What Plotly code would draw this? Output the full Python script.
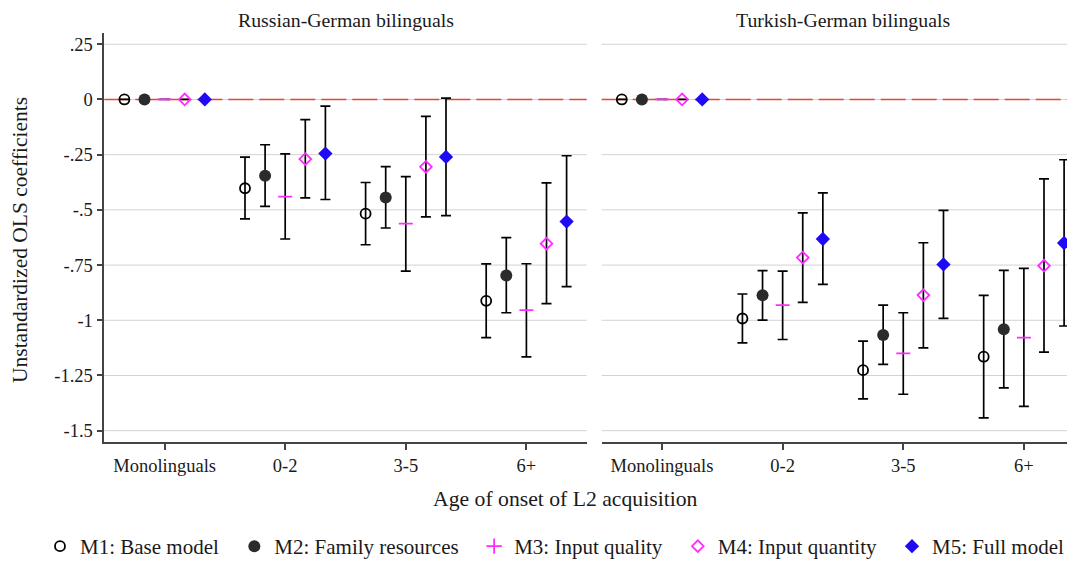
import plotly.graph_objects as go

# ---------------- data ----------------
categories = ["Monolinguals", "0-2", "3-5", "6+"]
models = ["M1: Base model", "M2: Family resources", "M3: Input quality",
          "M4: Input quantity", "M5: Full model"]
panels = ["Russian-German bilinguals", "Turkish-German bilinguals"]

y_tickvals = [0.25, 0, -0.25, -0.5, -0.75, -1, -1.25, -1.5]
y_ticktext = [".25", "0", "-.25", "-.5", "-.75", "-1", "-1.25", "-1.5"]

# Russian-German: rows = models M1..M5, cols = categories
ru_coef = [[0, -0.402, -0.517, -0.912],
           [0, -0.345, -0.444, -0.797],
           [0, -0.440, -0.562, -0.954],
           [0, -0.270, -0.305, -0.653],
           [0, -0.245, -0.260, -0.553]]
ru_lo = [[0, -0.541, -0.658, -1.079],
         [0, -0.484, -0.582, -0.966],
         [0, -0.632, -0.777, -1.166],
         [0, -0.446, -0.532, -0.925],
         [0, -0.453, -0.526, -0.848]]
ru_hi = [[0, -0.261, -0.376, -0.745],
         [0, -0.205, -0.304, -0.626],
         [0, -0.246, -0.349, -0.744],
         [0, -0.091, -0.077, -0.378],
         [0, -0.030, 0.006, -0.255]]

# Turkish-German
tr_coef = [[0, -0.992, -1.226, -1.165],
           [0, -0.887, -1.067, -1.041],
           [0, -0.931, -1.150, -1.079],
           [0, -0.716, -0.886, -0.753],
           [0, -0.632, -0.747, -0.650]]
tr_lo = [[0, -1.102, -1.356, -1.442],
         [0, -0.999, -1.200, -1.306],
         [0, -1.087, -1.335, -1.390],
         [0, -0.919, -1.125, -1.144],
         [0, -0.837, -0.991, -1.026]]
tr_hi = [[0, -0.881, -1.094, -0.887],
         [0, -0.775, -0.931, -0.774],
         [0, -0.777, -0.966, -0.765],
         [0, -0.514, -0.649, -0.360],
         [0, -0.423, -0.502, -0.273]]

# ---------------- styles ----------------
FONT = "Liberation Serif"
TXT = "#1a1a1a"
MAG = "#ff2bff"
BLUE = "#1f0af5"
GRID = "#d2d2d2"
marker_styles = [
    dict(symbol="circle-open", size=10, color="black", line=dict(width=1.8, color="black")),
    dict(symbol="circle", size=12, color="#2b2b2b", line=dict(width=0)),
    dict(symbol="line-ew", size=10, color=MAG, line=dict(width=1.8, color=MAG)),
    dict(symbol="diamond-open", size=9, color=MAG, line=dict(width=1.8, color=MAG)),
    dict(symbol="diamond", size=11, color=BLUE, line=dict(width=0)),
]
legend_m3 = dict(symbol="cross-thin", size=11, color=MAG, line=dict(width=1.8, color=MAG))
PAD = "\u00a0\u00a0"  # spacing after legend labels

W, H = 1075, 561
OFF = 8  # page body margin compensation (pixels)


def fx(px):
    return (px - OFF) / W


def fy(py):
    return (H - (py - OFF)) / H


fig = go.Figure()

data_sets = [(ru_coef, ru_lo, ru_hi, "x", "y"), (tr_coef, tr_lo, tr_hi, "x2", "y2")]
for p, (coef, lo, hi, xa, ya) in enumerate(data_sets):
    for m in range(5):
        xs = [k + 1 + (m - 2) / 6 for k in range(len(categories))]
        label = models[m] + (PAD if m < 4 else "")
        if p == 0 and m == 2:
            fig.add_trace(go.Scatter(x=[None], y=[None], mode="markers", marker=legend_m3,
                                     name=label, showlegend=True, xaxis=xa, yaxis=ya))
        fig.add_trace(go.Scatter(
            x=xs, y=coef[m], mode="markers", marker=marker_styles[m],
            name=label, showlegend=(p == 0 and m != 2),
            error_y=dict(type="data", symmetric=False,
                         array=[h - c for h, c in zip(hi[m], coef[m])],
                         arrayminus=[c - l for c, l in zip(coef[m], lo[m])],
                         color="black", thickness=1.7, width=5),
            xaxis=xa, yaxis=ya))

# gridlines (as shapes so the zero line can sit above them) and zero reference line
for xr, yr in [("x domain", "y"), ("x2 domain", "y2")]:
    for v in y_tickvals:
        fig.add_shape(type="line", xref=xr, yref=yr, x0=0, x1=1, y0=v, y1=v,
                      line=dict(color=GRID, width=1), layer="below")
    fig.add_shape(type="line", xref=xr, yref=yr, x0=0, x1=1, y0=0, y1=0,
                  line=dict(color="#e9443b", width=1.5, dash="25px,6px"), layer="below")

# geometry (page pixels)
ydom = [fy(442.3), fy(33)]
x1dom = [fx(104.3), fx(586.7)]
x2dom = [fx(601.7), 1.0]

axis_common = dict(tickfont=dict(family=FONT, size=18.5, color=TXT), showgrid=False,
                   zeroline=False)
fig.update_layout(
    width=W, height=H, margin=dict(l=0, r=0, t=0, b=0, autoexpand=False),
    paper_bgcolor="white", plot_bgcolor="white",
    font=dict(family=FONT, color=TXT),
    xaxis=dict(domain=x1dom, range=[0.5, 4.5], tickvals=[1, 2, 3, 4], ticktext=categories,
               ticks="outside", ticklen=6, tickwidth=1.5, tickcolor="#444",
               showline=True, linecolor="#444", linewidth=1.5, anchor="y", automargin=False,
               **axis_common),
    xaxis2=dict(domain=x2dom, range=[0.5, 4.49], tickvals=[1, 2, 3, 4], ticktext=categories,
                ticks="outside", ticklen=6, tickwidth=1.5, tickcolor="#444",
                showline=True, linecolor="#444", linewidth=1.5, anchor="y2", automargin=False,
                **axis_common),
    yaxis=dict(domain=ydom, range=[-1.5526, 0.301], tickvals=y_tickvals, ticktext=y_ticktext,
               ticks="outside", ticklen=6, tickwidth=1.5, tickcolor="#444",
               showline=True, linecolor="#444", linewidth=1.5, anchor="x",
               showgrid=False, zeroline=False,
               tickfont=dict(family=FONT, size=18.5, color=TXT), automargin=False),
    yaxis2=dict(domain=ydom, range=[-1.5526, 0.301], tickvals=y_tickvals, showticklabels=False,
                ticks="", showline=False, anchor="x2",
                showgrid=False, zeroline=False, automargin=False),
    legend=dict(orientation="h", x=fx(32 + OFF), xanchor="left", y=fy(546.5), yanchor="middle",
                font=dict(family=FONT, size=21, color=TXT), bgcolor="rgba(0,0,0,0)",
                traceorder="normal"),
    showlegend=True,
)

annotations = [
    dict(text=panels[0], x=fx(345.5), y=fy(20)),
    dict(text=panels[1], x=fx(843), y=fy(20)),
]
for a in annotations:
    fig.add_annotation(xref="paper", yref="paper", x=a["x"], y=a["y"], text=a["text"],
                       showarrow=False, xanchor="center", yanchor="middle",
                       font=dict(family=FONT, size=19.8, color=TXT))
fig.add_annotation(xref="paper", yref="paper", x=fx(565.5), y=fy(499),
                   text="Age of onset of L2 acquisition", showarrow=False,
                   xanchor="center", yanchor="middle",
                   font=dict(family=FONT, size=21.7, color=TXT))
fig.add_annotation(xref="paper", yref="paper", x=fx(20), y=fy(240),
                   text="Unstandardized OLS coefficients", showarrow=False, textangle=-90,
                   xanchor="center", yanchor="middle",
                   font=dict(family=FONT, size=21.5, color=TXT))

fig.write_html("out.html")
